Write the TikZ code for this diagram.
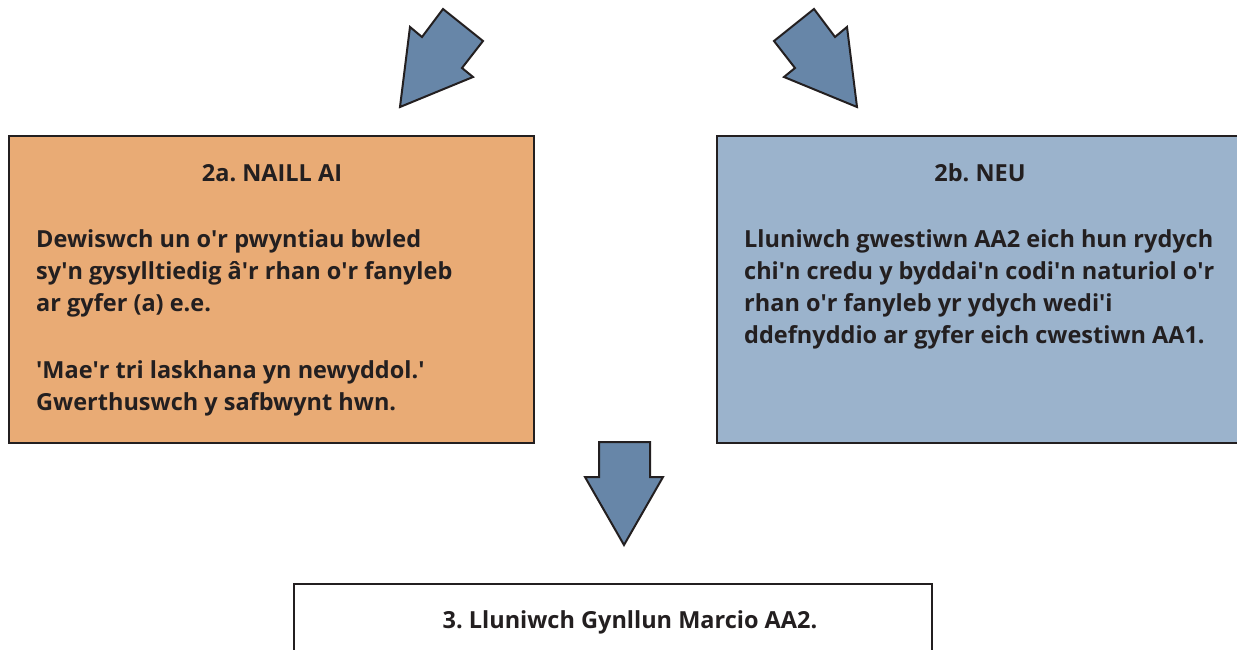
\documentclass[tikz,border=0pt]{standalone}
\usepackage{fontspec}
\setmainfont{Open Sans}
\newcommand\aq{\textquotesingle}
\definecolor{boxorange}{HTML}{E9AB75}
\definecolor{boxblue}{HTML}{9BB3CC}
\definecolor{arrowblue}{HTML}{6786A8}
\definecolor{ink}{HTML}{231F20}
\frenchspacing
\begin{document}
\begin{tikzpicture}[x=1pt,y=-1pt,
  panel/.style={draw=ink,line width=2pt,anchor=north west,inner sep=0pt},
  blockarrow/.style={draw=ink,fill=arrowblue,line width=2pt,line join=miter},
  txt/.style={anchor=base west,inner sep=0pt,text=ink,font=\fontsize{23.5}{32}\selectfont\bfseries\frenchspacing},
  ttl/.style={anchor=base,inner sep=0pt,text=ink,font=\fontsize{23.5}{32}\selectfont\bfseries\frenchspacing}]
\useasboundingbox (0,0) rectangle (1237,650);
% panels
\node[panel,fill=boxorange,minimum width=525pt,minimum height=307pt] (boxa) at (8,135) {};
\node[panel,fill=boxblue,minimum width=540pt,minimum height=307pt] (boxb) at (716,135) {};
\node[panel,fill=white,minimum width=638pt,minimum height=120pt] (boxc) at (293,583) {};
% arrows
\draw[blockarrow] (400,107) -- (410,27) -- (422,37) -- (443,9) -- (483,41) -- (462,68) -- (473,77) -- cycle;
\draw[blockarrow] (857,107) -- (847,27) -- (835,37) -- (814,9) -- (774,41) -- (795,68) -- (784,77) -- cycle;
\draw[blockarrow] (599,442) -- (650,442) -- (650,477) -- (663,477) -- (624,545) -- (585,477) -- (599,477) -- cycle;
% texts box a
\node[ttl] (ta) at (272,182) {2a. NAILL AI};
\node[txt] (a1) at (36,247) {Dewiswch un o\aq r pwyntiau bwled};
\node[txt] (a2) at (36,279) {sy\aq n gysylltiedig â\aq r rhan o\aq r fanyleb};
\node[txt] (a3) at (36,311) {ar gyfer (a) e.e.};
\node[txt] (a4) at (36,378) {\aq Mae\aq r tri laskhana yn newyddol.\aq};
\node[txt] (a5) at (36,410) {Gwerthuswch y safbwynt hwn.};
% texts box b
\node[ttl] (tb) at (980,182) {2b. NEU};
\node[txt] (b1) at (744,247) {Lluniwch gwestiwn AA2 eich hun rydych};
\node[txt] (b2) at (744,279) {chi\aq n credu y byddai\aq n codi\aq n naturiol o\aq r};
\node[txt] (b3) at (744,311) {rhan o\aq r fanyleb yr ydych wedi\aq i};
\node[txt] (b4) at (744,343) {ddefnyddio ar gyfer eich cwestiwn AA1.};
% text box c
\node[ttl] (tc) at (630,628) {3. Lluniwch Gynllun Marcio AA2.};
\end{tikzpicture}
\end{document}
